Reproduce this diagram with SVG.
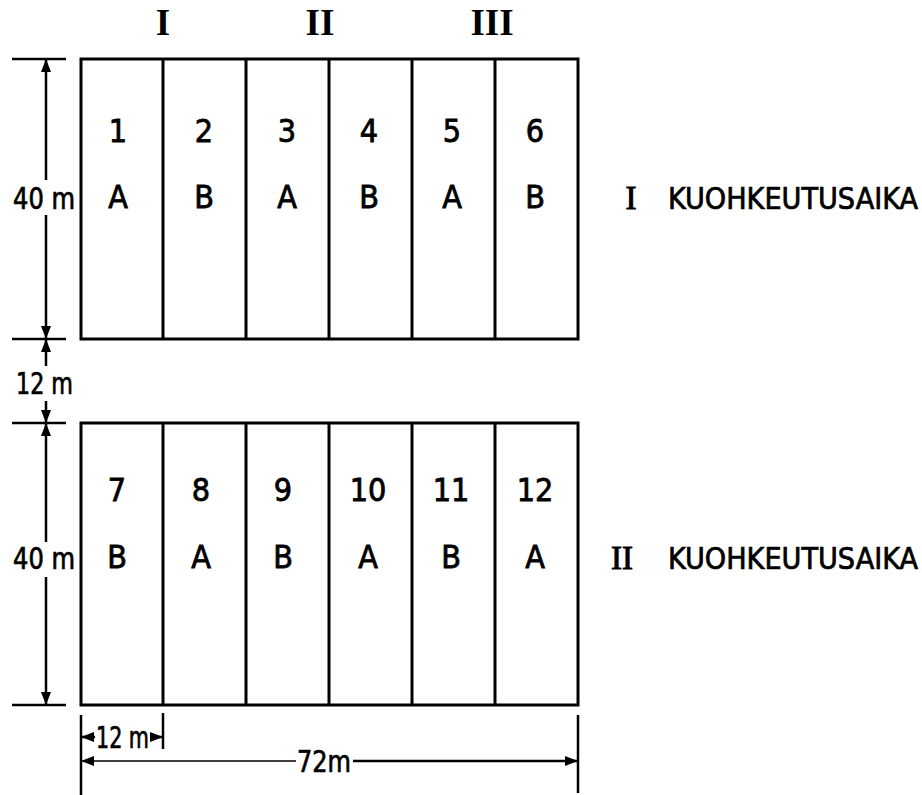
<svg xmlns="http://www.w3.org/2000/svg" width="922" height="795" viewBox="0 0 922 795">
<style>
.frame{fill:none;stroke:#000;stroke-width:3}
.ln{stroke:#000;stroke-width:3;fill:none}
.dim{stroke:#000;stroke-width:2.5;fill:none}
.thin{stroke:#000;stroke-width:1.5;fill:none}
.t{font-family:"DejaVu Sans Condensed","DejaVu Sans",sans-serif;font-stretch:condensed;font-size:32px;fill:#000;stroke:#000;stroke-width:0.8;text-anchor:middle}
.lbl{font-family:"DejaVu Sans Condensed","DejaVu Sans",sans-serif;font-stretch:condensed;font-size:30px;fill:#000;stroke:#000;stroke-width:0.7}
.rom{font-family:"Liberation Serif","Times New Roman",serif;font-weight:bold;font-size:37px;fill:#000;text-anchor:middle}
</style>
<defs>
<marker id="arr" markerUnits="userSpaceOnUse" markerWidth="14" markerHeight="10" refX="13" refY="5" orient="auto">
<path d="M0,0 L13,5 L0,10 z" fill="#000"/>
</marker>
</defs>

<g id="roman">
<text class="rom" x="163" y="35">I</text>
<text class="rom" x="320" y="35">II</text>
<text class="rom" x="492" y="35">III</text>
</g>

<g id="field1">
<rect class="frame" x="81" y="59" width="497" height="280"/>
<line class="ln" x1="163" y1="59" x2="163" y2="339"/>
<line class="ln" x1="246" y1="59" x2="246" y2="339"/>
<line class="ln" x1="329" y1="59" x2="329" y2="339"/>
<line class="ln" x1="412" y1="59" x2="412" y2="339"/>
<line class="ln" x1="495" y1="59" x2="495" y2="339"/>
</g>
<g id="p1"><text class="t" x="118" y="142">1</text><text class="t" x="118" y="208">A</text></g>
<g id="p2"><text class="t" x="204" y="142">2</text><text class="t" x="204" y="208">B</text></g>
<g id="p3"><text class="t" x="287" y="142">3</text><text class="t" x="287" y="208">A</text></g>
<g id="p4"><text class="t" x="369" y="142">4</text><text class="t" x="369" y="208">B</text></g>
<g id="p5"><text class="t" x="452" y="142">5</text><text class="t" x="452" y="208">A</text></g>
<g id="p6"><text class="t" x="535" y="142">6</text><text class="t" x="535" y="208">B</text></g>

<g id="field2">
<rect class="frame" x="81" y="423" width="497" height="282"/>
<line class="ln" x1="163" y1="423" x2="163" y2="705"/>
<line class="ln" x1="246" y1="423" x2="246" y2="705"/>
<line class="ln" x1="329" y1="423" x2="329" y2="705"/>
<line class="ln" x1="412" y1="423" x2="412" y2="705"/>
<line class="ln" x1="495" y1="423" x2="495" y2="705"/>
</g>
<g id="p7"><text class="t" x="117" y="501">7</text><text class="t" x="117" y="568">B</text></g>
<g id="p8"><text class="t" x="201" y="501">8</text><text class="t" x="201" y="568">A</text></g>
<g id="p9"><text class="t" x="283" y="501">9</text><text class="t" x="283" y="568">B</text></g>
<g id="p10"><text class="t" x="368" y="501">10</text><text class="t" x="368" y="568">A</text></g>
<g id="p11"><text class="t" x="451" y="501">11</text><text class="t" x="451" y="568">B</text></g>
<g id="p12"><text class="t" x="535" y="501">12</text><text class="t" x="535" y="568">A</text></g>

<g id="labels">
<text class="rom" x="631" y="209" style="font-size:33px;font-weight:normal;stroke:#000;stroke-width:1">I</text>
<text class="lbl" x="668" y="209" textLength="250" lengthAdjust="spacingAndGlyphs">KUOHKEUTUSAIKA</text>
<text class="rom" x="622" y="569" style="font-size:33px;font-weight:normal;stroke:#000;stroke-width:1">II</text>
<text class="lbl" x="668" y="569" textLength="250" lengthAdjust="spacingAndGlyphs">KUOHKEUTUSAIKA</text>
</g>

<g id="connectors">
<line class="dim" x1="12" y1="59" x2="66" y2="59"/>
<line class="dim" x1="12" y1="339" x2="66" y2="339"/>
<line class="dim" x1="12" y1="423" x2="66" y2="423"/>
<line class="dim" x1="12" y1="705" x2="66" y2="705"/>
<line class="dim" x1="46" y1="180" x2="46" y2="59" marker-end="url(#arr)"/>
<line class="dim" x1="46" y1="215" x2="46" y2="339" marker-end="url(#arr)"/>
<line class="dim" x1="46" y1="366" x2="46" y2="339" marker-end="url(#arr)"/>
<line class="dim" x1="46" y1="401" x2="46" y2="423" marker-end="url(#arr)"/>
<line class="dim" x1="46" y1="542" x2="46" y2="423" marker-end="url(#arr)"/>
<line class="dim" x1="46" y1="577" x2="46" y2="705" marker-end="url(#arr)"/>
<line class="dim" x1="81" y1="715" x2="81" y2="795"/>
<line class="dim" x1="163" y1="713" x2="163" y2="749"/>
<line class="dim" x1="578" y1="715" x2="578" y2="793"/>
<line class="dim" x1="95" y1="737" x2="81" y2="737" marker-end="url(#arr)"/>
<line class="dim" x1="150" y1="737" x2="163" y2="737" marker-end="url(#arr)"/>
<line class="thin" x1="296" y1="761" x2="81" y2="761" marker-end="url(#arr)"/>
<line class="dim" x1="353" y1="761" x2="578" y2="761" marker-end="url(#arr)"/>
</g>

<g id="dimtexts">
<text class="lbl" x="13" y="209" textLength="62" lengthAdjust="spacingAndGlyphs">40 m</text>
<text class="lbl" x="16" y="394" textLength="57" lengthAdjust="spacingAndGlyphs">12 m</text>
<text class="lbl" x="13" y="569" textLength="62" lengthAdjust="spacingAndGlyphs">40 m</text>
<text class="lbl" x="96" y="748" textLength="53" lengthAdjust="spacingAndGlyphs">12 m</text>
<text class="lbl" x="297" y="772" textLength="54" lengthAdjust="spacingAndGlyphs">72m</text>
</g>
</svg>
